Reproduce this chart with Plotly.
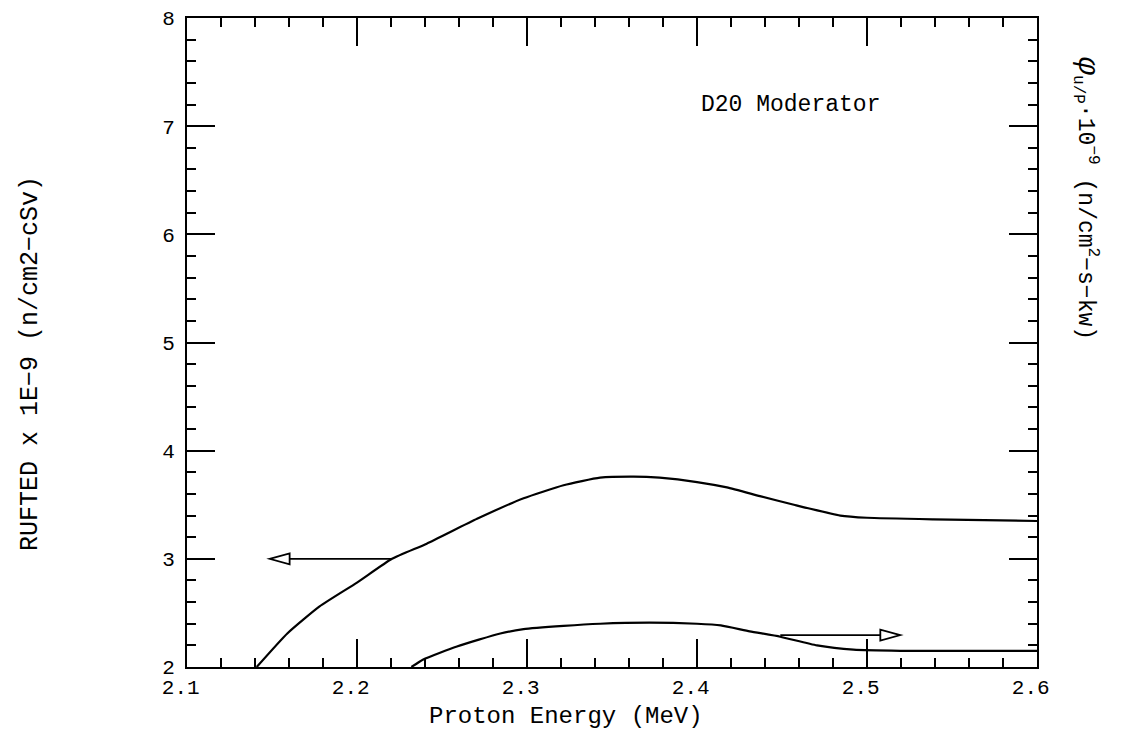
import plotly.graph_objects as go

# ---- data ----
energy_rufted = [2.141, 2.159, 2.178, 2.200, 2.2206, 2.241, 2.2706, 2.298, 2.3215,
                 2.343, 2.3627, 2.378, 2.400, 2.4176, 2.437, 2.457, 2.4843, 2.500,
                 2.539, 2.600]
rufted = [2.00, 2.31, 2.56, 2.78, 3.00, 3.14, 3.37, 3.56, 3.68,
          3.75, 3.76, 3.75, 3.71, 3.66, 3.58, 3.50, 3.40, 3.38,
          3.365, 3.35]

energy_phi = [2.232, 2.239, 2.2588, 2.2843, 2.298, 2.3215, 2.343, 2.372, 2.400,
              2.414, 2.431, 2.449, 2.4706, 2.492, 2.5196, 2.600]
phi = [2.00, 2.07, 2.19, 2.31, 2.35, 2.38, 2.40, 2.41, 2.40,
       2.385, 2.33, 2.28, 2.20, 2.16, 2.15, 2.15]

# arrows: (tail x, tip x, y)
arrow_tail_x = [2.2200, 2.449]
arrow_tip_x = [2.1486, 2.5196]
arrow_y = [3.00, 2.295]

x_ticks = [2.1, 2.2, 2.3, 2.4, 2.5, 2.6]
x_ticklabels = ["2.1", "2.2", "2.3", "2.4", "2.5", "2.6"]
y_ticks = [2, 3, 4, 5, 6, 7, 8]
x_range = [2.1, 2.6]
y_range = [2, 8]

# ---- layout geometry (page body has an 8px margin) ----
OFF = 8
W, H = 1124 - 2 * OFF, 737 - 2 * OFF
ML, MT = 187 - OFF, 18 - OFF
MR = W - (1037 - OFF)
MB = H - (667 - OFF)
PW, PH = W - ML - MR, H - MT - MB
FONT = "Liberation Mono, Courier New, monospace"


def px_to_paper(px, py):
    """screen pixel -> paper coords"""
    return (px - OFF - ML) / PW, 1 - (py - OFF - MT) / PH


fig = go.Figure()
fig.add_trace(go.Scatter(x=energy_rufted, y=rufted, mode="lines",
                         line=dict(color="black", width=2.2, shape="spline", smoothing=0.5),
                         name="RUFTED", showlegend=False))
fig.add_trace(go.Scatter(x=energy_phi, y=phi, mode="lines",
                         line=dict(color="black", width=2.2, shape="spline", smoothing=0.5),
                         name="phi", showlegend=False))

# arrows (open triangle heads)
px_x = (x_range[1] - x_range[0]) / PW
px_y = (y_range[1] - y_range[0]) / PH
head_len, head_half = 20, 5.5
for tx, hx, ay in zip(arrow_tail_x, arrow_tip_x, arrow_y):
    d = 1 if hx > tx else -1
    base = hx - d * head_len * px_x
    fig.add_shape(type="line", x0=tx, x1=base, y0=ay, y1=ay,
                  line=dict(color="black", width=1.8))
    path = (f"M {hx},{ay} L {base},{ay + head_half * px_y} "
            f"L {base},{ay - head_half * px_y} Z")
    fig.add_shape(type="path", path=path, fillcolor="white",
                  line=dict(color="black", width=1.8))

axis_common = dict(showgrid=False, zeroline=False, showline=True, linecolor="black",
                   linewidth=2, mirror="allticks", ticks="inside", tickcolor="black",
                   tickwidth=1.8, ticklen=28, automargin=False,
                   tickfont=dict(family=FONT, size=21, color="black"))

fig.update_xaxes(range=x_range, tickvals=x_ticks,
                 ticktext=[t + "\u00a0" for t in x_ticklabels],
                 minor=dict(dtick=0.02, tick0=2.1, ticks="inside", ticklen=9,
                            tickwidth=1.8, tickcolor="black"),
                 **axis_common)
fig.update_yaxes(range=y_range, tickvals=y_ticks, ticklabelstandoff=6,
                 minor=dict(dtick=0.2, tick0=2, ticks="inside", ticklen=9,
                            tickwidth=1.8, tickcolor="black"),
                 **axis_common)

ann = dict(xref="paper", yref="paper", showarrow=False, xanchor="center", yanchor="middle")

x, y = px_to_paper(566, 716)
fig.add_annotation(text="Proton Energy (MeV)", x=x, y=y,
                   font=dict(family=FONT, size=24, color="black"), **ann)
x, y = px_to_paper(30, 364)
fig.add_annotation(text="RUFTED x 1E\u22129 (n/cm2\u2212cSv)", x=x, y=y, textangle=-90,
                   font=dict(family=FONT, size=25, color="black"), **ann)
x, y = px_to_paper(1086, 198)
fig.add_annotation(text="<i><span style='font-size:30px'>\u03c6</span></i><sub>u/P</sub>\u00b710<sup>\u22129</sup> (n/cm<sup>2</sup>\u2212s\u2212kw)",
                   x=x, y=y, textangle=90,
                   font=dict(family=FONT, size=23, color="black"), **ann)
x, y = px_to_paper(790, 105)
fig.add_annotation(text="D20 Moderator", x=x, y=y,
                   font=dict(family=FONT, size=23, color="black"), **ann)

fig.update_layout(width=W, height=H, margin=dict(l=ML, r=MR, t=MT, b=MB),
                  plot_bgcolor="white", paper_bgcolor="white", showlegend=False)

fig.write_html("out.html")
